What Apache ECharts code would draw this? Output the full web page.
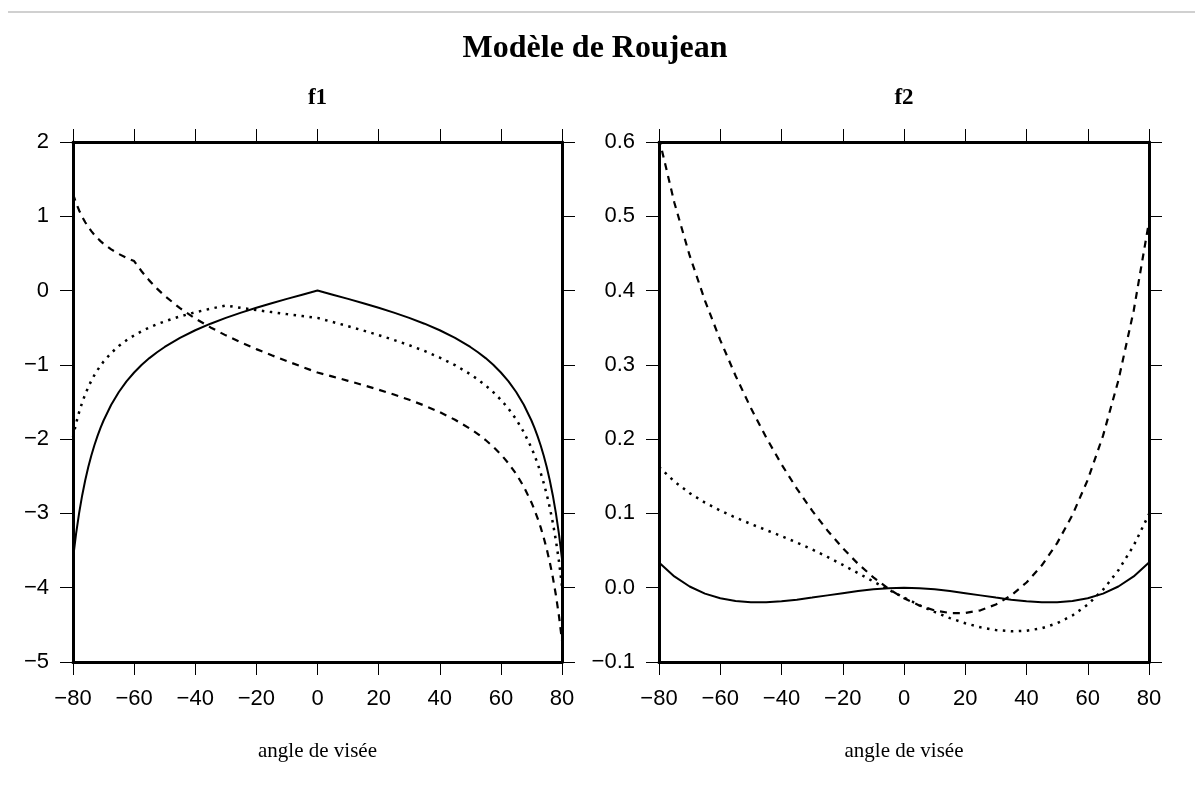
<!DOCTYPE html>
<html>
<head>
<meta charset="utf-8">
<script src="https://cdn.jsdelivr.net/npm/echarts@6/dist/echarts.min.js"></script>
<style>
html,body{margin:0;padding:0;background:#fff;}
#chart{width:1203px;height:787px;}
</style>
</head>
<body>
<div id="chart"></div>
<script>
// ---- data ----
var xF1 = [-80,-79,-78,-77,-76,-75,-74,-73,-72,-71,-70,-67.5,-65,-62.5,-60,-57.5,-55,-52.5,-50,-45,-40,-35,-30,-25,-20,-15,-10,-5,0,5,10,15,20,25,30,35,40,45,50,52.5,55,57.5,60,62.5,65,67.5,70,71,72,73,74,75,76,77,78,79,80];
var f1Solid = [-3.611,-3.275,-2.995,-2.758,-2.553,-2.376,-2.220,-2.082,-1.959,-1.849,-1.749,-1.537,-1.365,-1.223,-1.103,-0.999,-0.909,-0.830,-0.759,-0.637,-0.534,-0.446,-0.368,-0.297,-0.232,-0.171,-0.112,-0.056,0,-0.056,-0.112,-0.171,-0.232,-0.297,-0.368,-0.446,-0.534,-0.637,-0.759,-0.830,-0.909,-0.999,-1.103,-1.223,-1.365,-1.537,-1.749,-1.849,-1.959,-2.082,-2.220,-2.376,-2.553,-2.758,-2.995,-3.275,-3.611];
var f1Dotted = [-1.973,-1.790,-1.637,-1.507,-1.396,-1.299,-1.213,-1.138,-1.071,-1.011,-0.956,-0.840,-0.746,-0.668,-0.603,-0.546,-0.497,-0.453,-0.415,-0.348,-0.292,-0.244,-0.201,-0.233,-0.263,-0.290,-0.317,-0.342,-0.368,-0.423,-0.480,-0.538,-0.599,-0.665,-0.735,-0.813,-0.902,-1.004,-1.126,-1.197,-1.277,-1.367,-1.470,-1.591,-1.733,-1.905,-2.117,-2.217,-2.327,-2.450,-2.588,-2.743,-2.921,-3.125,-3.363,-3.643,-3.978];
var f1Dashed = [1.301,1.180,1.079,0.994,0.920,0.856,0.800,0.750,0.706,0.666,0.630,0.554,0.492,0.441,0.397,0.257,0.134,0.026,-0.071,-0.237,-0.376,-0.496,-0.603,-0.699,-0.788,-0.871,-0.950,-1.027,-1.103,-1.158,-1.215,-1.273,-1.334,-1.400,-1.470,-1.548,-1.637,-1.739,-1.861,-1.932,-2.012,-2.102,-2.205,-2.326,-2.468,-2.640,-2.852,-2.952,-3.062,-3.185,-3.323,-3.479,-3.656,-3.860,-4.098,-4.378,-4.713];

var xF2 = [-80,-75,-70,-65,-60,-55,-50,-45,-40,-35,-30,-25,-20,-15,-10,-5,0,5,10,15,20,25,30,35,40,45,50,55,60,65,70,75,80];
var f2Solid = [0.0338,0.0152,0.0016,-0.0079,-0.0142,-0.0179,-0.0195,-0.0195,-0.0182,-0.0161,-0.0133,-0.0103,-0.0073,-0.0045,-0.0022,-0.0006,0,-0.0006,-0.0022,-0.0045,-0.0073,-0.0103,-0.0133,-0.0161,-0.0182,-0.0195,-0.0195,-0.0179,-0.0142,-0.0079,0.0016,0.0152,0.0338];
var f2Dotted = [0.1626,0.1430,0.1274,0.1146,0.1038,0.0944,0.0858,0.0776,0.0694,0.0608,0.0516,0.0414,0.0308,0.0196,0.0084,-0.0027,-0.0133,-0.0234,-0.0326,-0.0409,-0.0478,-0.0533,-0.0570,-0.0586,-0.0579,-0.0545,-0.0478,-0.0374,-0.0226,-0.0027,0.0235,0.0567,0.0990];
var f2Dashed = [0.6054,0.5186,0.4473,0.3866,0.3333,0.2854,0.2418,0.2022,0.1661,0.1334,0.1038,0.0771,0.0532,0.0322,0.0139,-0.0016,-0.0142,-0.0239,-0.0306,-0.0341,-0.0341,-0.0304,-0.0226,-0.0104,0.0070,0.0301,0.0600,0.0979,0.1453,0.2047,0.2790,0.3728,0.4928];

var mainTitle = 'Modèle de Roujean';
var panelTitles = ['f1', 'f2'];
var xAxisName = 'angle de visée';

// ---- helpers ----
function pairs(xs, ys){ return xs.map(function(x,i){ return [x, ys[i]]; }); }
function minusFmt(s){ return String(s).replace('-', '\u2212'); }
function fmtInt(v){ return minusFmt(Math.round(v)); }
function fmt1(v){ if (Math.abs(v) < 1e-9) return '0.0'; return minusFmt(v.toFixed(1)); }

var SANS = '"Liberation Sans", Arial, Helvetica, sans-serif';
var SERIF = '"Liberation Serif", "Times New Roman", Times, serif';

var grids = [
  {left: 73, top: 142, width: 489, height: 520},
  {left: 659, top: 142, width: 490, height: 520}
];

function xAxisDef(g, pos){
  return {
    gridIndex: g, type: 'value', min: -80, max: 80, interval: 20, position: pos,
    axisLine: {show: true, onZero: false, lineStyle: {color: '#000', width: 3}},
    axisTick: {show: true, inside: false, length: 13, lineStyle: {color: '#000', width: 1}},
    axisLabel: {show: pos === 'bottom', formatter: fmtInt, fontSize: 22, fontFamily: SANS, color: '#000', margin: 26},
    splitLine: {show: false}
  };
}
function yAxisDef(g, pos, mn, mx, iv, f){
  return {
    gridIndex: g, type: 'value', min: mn, max: mx, interval: iv, position: pos,
    axisLine: {show: true, onZero: false, lineStyle: {color: '#000', width: 3}},
    axisTick: {show: true, inside: false, length: 13, lineStyle: {color: '#000', width: 1}},
    axisLabel: {show: pos === 'left', formatter: f, fontSize: 22, fontFamily: SANS, color: '#000', margin: 24},
    splitLine: {show: false}
  };
}

function lineSeries(xi, yi, data, type, w){
  return {
    type: 'line', xAxisIndex: xi, yAxisIndex: yi, data: data,
    showSymbol: false, symbol: 'none', smooth: false, clip: true,
    lineStyle: {color: '#000', width: w, type: type},
    emphasis: {disabled: true}
  };
}

var option = {
  animation: false,
  backgroundColor: '#fff',
  grid: grids,
  xAxis: [xAxisDef(0,'bottom'), xAxisDef(0,'top'), xAxisDef(1,'bottom'), xAxisDef(1,'top')],
  yAxis: [yAxisDef(0,'left',-5,2,1,fmtInt), yAxisDef(0,'right',-5,2,1,fmtInt),
          yAxisDef(1,'left',-0.1,0.6,0.1,fmt1), yAxisDef(1,'right',-0.1,0.6,0.1,fmt1)],
  series: [
    lineSeries(0, 0, pairs(xF1, f1Solid), 'solid', 2),
    lineSeries(0, 0, pairs(xF1, f1Dotted), [2.5, 5.5], 2.5),
    lineSeries(0, 0, pairs(xF1, f1Dashed), [7, 6], 2.2),
    lineSeries(2, 2, pairs(xF2, f2Solid), 'solid', 2),
    lineSeries(2, 2, pairs(xF2, f2Dotted), [2.5, 5.5], 2.5),
    lineSeries(2, 2, pairs(xF2, f2Dashed), [7, 6], 2.2)
  ],
  graphic: [
    {type: 'line', shape: {x1: 8, y1: 12, x2: 1195, y2: 12}, style: {stroke: '#d0d0d0', lineWidth: 2}, silent: true},
    {type: 'text', x: 595, y: 48.5, style: {text: mainTitle, font: 'bold 32px ' + SERIF, fill: '#000', textAlign: 'center', textVerticalAlign: 'middle'}},
    {type: 'text', x: 317.5, y: 98, style: {text: panelTitles[0], font: 'bold 23px ' + SERIF, fill: '#000', textAlign: 'center', textVerticalAlign: 'middle'}},
    {type: 'text', x: 904, y: 98, style: {text: panelTitles[1], font: 'bold 23px ' + SERIF, fill: '#000', textAlign: 'center', textVerticalAlign: 'middle'}},
    {type: 'text', x: 317.5, y: 751, style: {text: xAxisName, font: '21px ' + SERIF, fill: '#000', textAlign: 'center', textVerticalAlign: 'middle'}},
    {type: 'text', x: 904, y: 751, style: {text: xAxisName, font: '21px ' + SERIF, fill: '#000', textAlign: 'center', textVerticalAlign: 'middle'}}
  ]
};

var chart = echarts.init(document.getElementById('chart'), null, {renderer: 'canvas'});
chart.setOption(option);
</script>
</body>
</html>
